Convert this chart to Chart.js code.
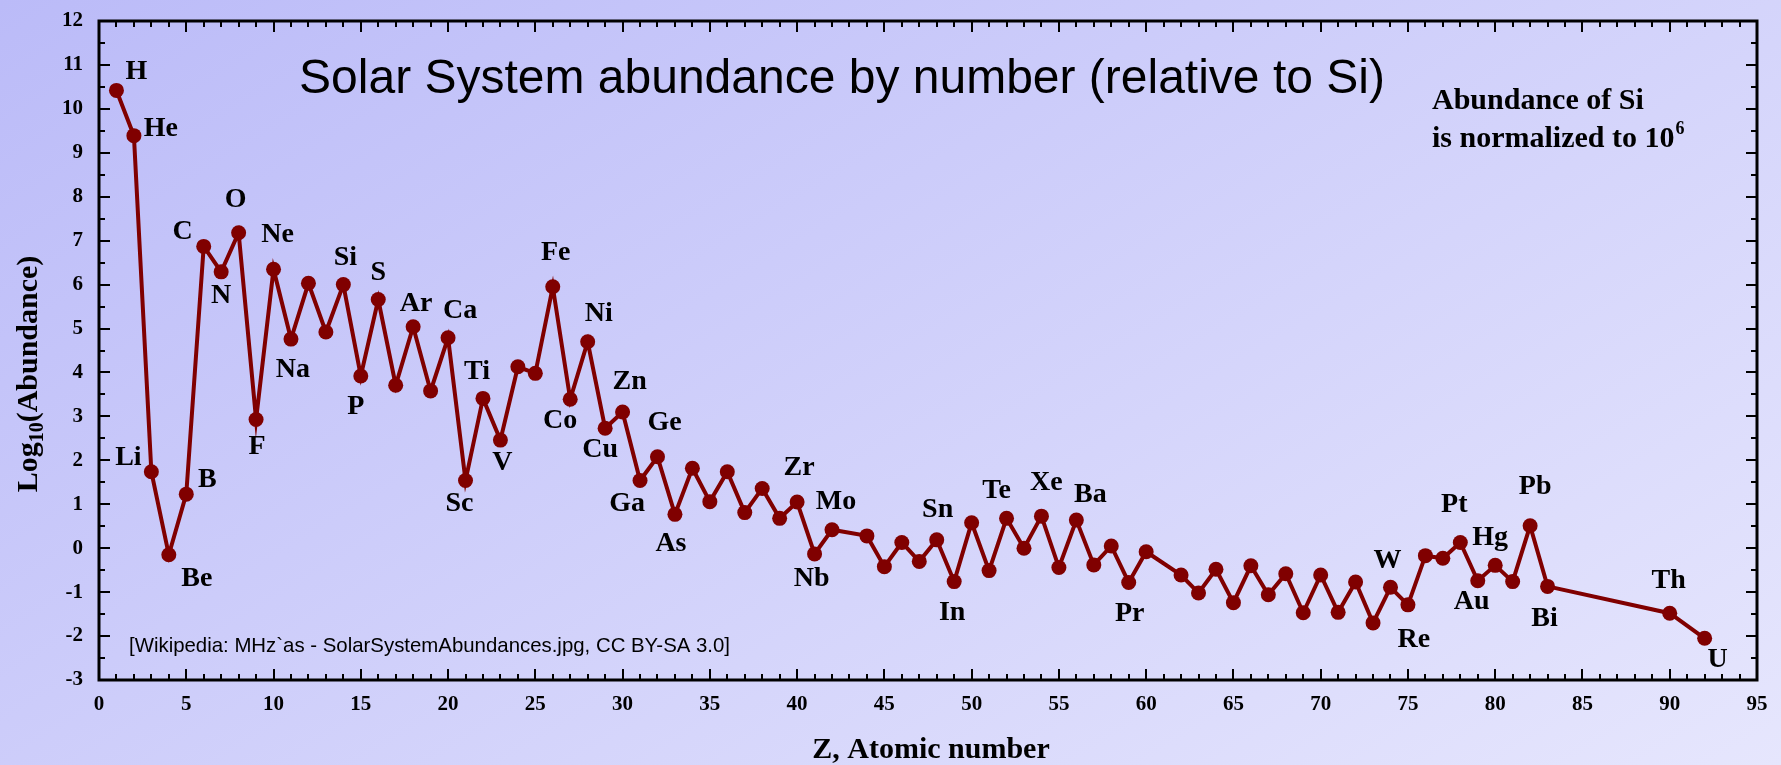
<!DOCTYPE html>
<html>
<head>
<meta charset="utf-8">
<title>Solar System abundance by number</title>
<script src="https://cdn.jsdelivr.net/npm/chart.js@4.4.1/dist/chart.umd.min.js"></script>
<style>
  html, body { margin: 0; padding: 0; }
  #wrap { width: 1781px; height: 765px; }
</style>
</head>
<body>
<div id="wrap"><canvas id="chart" width="1781" height="765"></canvas></div>
<script>
// Atomic numbers of the elements shown
const atomicNumbers = [
  1, 2, 3, 4, 5, 6, 7, 8, 9, 10,
  11, 12, 13, 14, 15, 16, 17, 18, 19, 20,
  21, 22, 23, 24, 25, 26, 27, 28, 29, 30,
  31, 32, 33, 34, 35, 36, 37, 38, 39, 40,
  41, 42, 44, 45, 46, 47, 48, 49, 50,
  51, 52, 53, 54, 55, 56, 57, 58, 59, 60,
  62, 63, 64, 65, 66, 67, 68, 69, 70,
  71, 72, 73, 74, 75, 76, 77, 78, 79, 80,
  81, 82, 83, 90, 92
];

// Element symbols, same order
const symbols = [
  'H', 'He', 'Li', 'Be', 'B', 'C', 'N', 'O', 'F', 'Ne',
  'Na', 'Mg', 'Al', 'Si', 'P', 'S', 'Cl', 'Ar', 'K', 'Ca',
  'Sc', 'Ti', 'V', 'Cr', 'Mn', 'Fe', 'Co', 'Ni', 'Cu', 'Zn',
  'Ga', 'Ge', 'As', 'Se', 'Br', 'Kr', 'Rb', 'Sr', 'Y', 'Zr',
  'Nb', 'Mo', 'Ru', 'Rh', 'Pd', 'Ag', 'Cd', 'In', 'Sn',
  'Sb', 'Te', 'I', 'Xe', 'Cs', 'Ba', 'La', 'Ce', 'Pr', 'Nd',
  'Sm', 'Eu', 'Gd', 'Tb', 'Dy', 'Ho', 'Er', 'Tm', 'Yb',
  'Lu', 'Hf', 'Ta', 'W', 'Re', 'Os', 'Ir', 'Pt', 'Au', 'Hg',
  'Tl', 'Pb', 'Bi', 'Th', 'U'
];

// log10 of abundance by number, Si = 10^6
const log10Abundance = [
  10.42, 9.39, 1.74, -0.15, 1.23, 6.87, 6.29, 7.18, 2.93, 6.35,
  4.76, 6.03, 4.92, 6.00, 3.92, 5.66, 3.71, 5.04, 3.58, 4.79,
  1.54, 3.41, 2.46, 4.13, 3.98, 5.95, 3.39, 4.70, 2.73, 3.10,
  1.54, 2.08, 0.77, 1.82, 1.06, 1.74, 0.81, 1.36, 0.68, 1.05,
  -0.13, 0.42, 0.28, -0.42, 0.13, -0.30, 0.19, -0.76, 0.58,
  -0.51, 0.68, 0.00, 0.73, -0.44, 0.64, -0.38, 0.05, -0.78, -0.08,
  -0.61, -1.02, -0.48, -1.24, -0.40, -1.06, -0.58, -1.47, -0.61,
  -1.46, -0.77, -1.70, -0.89, -1.29, -0.17, -0.23, 0.13, -0.74, -0.39,
  -0.76, 0.51, -0.87, -1.48, -2.05
];

// Axis ranges and tick steps
const xRange = [0, 95];
const yRange = [-3, 12];
const xTickStep = 5;
const yTickStep = 1;

// Which elements get a name tag, and where the tag sits relative to its marker (px)
const tagPlacement = {
  H: [20, -19], He: [27, -7], Li: [-23, -14], Be: [28, 24], B: [21, -14],
  C: [-21, -15], N: [0, 24], O: [-3, -33], F: [1, 27], Ne: [4, -34],
  Na: [2, 31], Si: [2, -27], P: [-5, 31], S: [0, -27], Ar: [3, -23],
  Ca: [12, -27], Sc: [-6, 23], Ti: [-6, -27], V: [2, 23], Fe: [3, -34],
  Co: [-10, 21], Ni: [11, -28], Cu: [-5, 22], Zn: [7, -30], Ga: [-13, 23],
  Ge: [7, -34], As: [-4, 29], Zr: [2, -34], Nb: [-3, 25], Mo: [4, -28],
  Sn: [-34, -13], In: [-2, 31], Te: [-10, -28], Xe: [5, -33], Ba: [14, -25],
  Pr: [1, 31], W: [-3, -27], Re: [6, 35], Pt: [-6, -38], Au: [-6, 21],
  Hg: [-5, -28], Pb: [5, -39], Bi: [-3, 32], Th: [-1, -32], U: [13, 22]
};

const INK = '#000000';
const MARK = '#800000';
const SERIF = '"Liberation Serif", "Times New Roman", Times, serif';
const SANS = '"Liberation Sans", Arial, Helvetica, sans-serif';

const points = atomicNumbers.map((z, i) => ({ x: z, y: log10Abundance[i] }));

// Soft diagonal backdrop
const backdrop = {
  id: 'backdrop',
  beforeDraw(chart) {
    const { ctx, width, height } = chart;
    const g = ctx.createLinearGradient(0, 0, 812, 1349);
    g.addColorStop(0, '#bbbbf8');
    g.addColorStop(1, '#e6e6fd');
    ctx.save();
    ctx.fillStyle = g;
    ctx.fillRect(0, 0, width, height);
    ctx.restore();
  }
};

// Box frame with inward major/minor ticks on all four sides
const frameTicks = {
  id: 'frameTicks',
  afterDatasetsDraw(chart) {
    const { ctx, chartArea: a, scales } = chart;
    const xs = scales.x, ys = scales.y;
    ctx.save();
    ctx.strokeStyle = INK;
    ctx.lineWidth = 2;
    ctx.beginPath();
    for (let z = xRange[0]; z <= xRange[1]; z += 1) {
      const px = Math.round(xs.getPixelForValue(z));
      const len = z % xTickStep === 0 ? 11 : 6;
      ctx.moveTo(px, a.bottom); ctx.lineTo(px, a.bottom - len);
      ctx.moveTo(px, a.top); ctx.lineTo(px, a.top + len);
    }
    for (let v = yRange[0]; v <= yRange[1]; v += 0.5) {
      const py = Math.round(ys.getPixelForValue(v));
      const len = Number.isInteger(v) ? 11 : 6;
      ctx.moveTo(a.left, py); ctx.lineTo(a.left + len, py);
      ctx.moveTo(a.right, py); ctx.lineTo(a.right - len, py);
    }
    ctx.stroke();
    ctx.lineWidth = 3;
    ctx.strokeRect(a.left, a.top, a.right - a.left, a.bottom - a.top);
    ctx.restore();
  }
};

// Element name tags next to their markers
const elementTags = {
  id: 'elementTags',
  afterDatasetsDraw(chart) {
    const { ctx } = chart;
    const meta = chart.getDatasetMeta(0);
    ctx.save();
    ctx.fillStyle = INK;
    ctx.font = 'bold 28px ' + SERIF;
    ctx.textAlign = 'center';
    ctx.textBaseline = 'middle';
    symbols.forEach((sym, i) => {
      const off = tagPlacement[sym];
      if (!off) return;
      const el = meta.data[i];
      ctx.fillText(sym, el.x + off[0], el.y + off[1]);
    });
    ctx.restore();
  }
};

// Title, notes and axis captions
const captions = {
  id: 'captions',
  afterDraw(chart) {
    const { ctx } = chart;
    ctx.save();
    ctx.fillStyle = INK;

    ctx.font = '48px ' + SANS;
    ctx.textAlign = 'center';
    ctx.textBaseline = 'alphabetic';
    ctx.fillText('Solar System abundance by number (relative to Si)', 842, 93);

    ctx.textAlign = 'left';
    ctx.font = '20.4px ' + SANS;
    ctx.fillText('[Wikipedia: MHz`as - SolarSystemAbundances.jpg, CC BY-SA 3.0]', 129, 652);

    ctx.font = 'bold 30px ' + SERIF;
    ctx.fillText('Abundance of Si', 1432, 109);
    const line2 = 'is normalized to 10';
    ctx.fillText(line2, 1432, 147);
    const w2 = ctx.measureText(line2).width;
    ctx.font = 'bold 18px ' + SERIF;
    ctx.fillText('6', 1432 + w2 + 1, 134);

    ctx.font = 'bold 30px ' + SERIF;
    ctx.textAlign = 'center';
    ctx.fillText('Z, Atomic number', 931, 758);

    // rotated y caption with subscript
    const big = 'bold 30px ' + SERIF, small = 'bold 20px ' + SERIF;
    ctx.font = big;
    const wLog = ctx.measureText('Log').width;
    const wRest = ctx.measureText('(Abundance)').width;
    ctx.font = small;
    const wSub = ctx.measureText('10').width;
    const total = wLog + wSub + wRest;
    ctx.translate(37, 374);
    ctx.rotate(-Math.PI / 2);
    ctx.textAlign = 'left';
    let u = -total / 2;
    ctx.font = big; ctx.fillText('Log', u, 0); u += wLog;
    ctx.font = small; ctx.fillText('10', u, 6); u += wSub;
    ctx.font = big; ctx.fillText('(Abundance)', u, 0);
    ctx.restore();
  }
};

// Pin each axis box to a fixed thickness and drop the label overhang padding
const fixedSize = (px, horizontal) => (scale) => {
  if (horizontal) {
    scale.height = px;
    scale.paddingLeft = 0; scale.paddingRight = 0;
  } else {
    scale.width = px;
    scale.paddingTop = 0; scale.paddingBottom = 0;
  }
};

new Chart(document.getElementById('chart'), {
  type: 'line',
  data: {
    datasets: [{
      data: points,
      borderColor: MARK,
      backgroundColor: MARK,
      borderWidth: 4,
      pointRadius: 7.5,
      pointBackgroundColor: MARK,
      pointBorderColor: MARK,
      pointBorderWidth: 0,
      tension: 0,
      fill: false
    }]
  },
  options: {
    responsive: false,
    animation: false,
    events: [],
    layout: { padding: 0 },
    plugins: { legend: { display: false }, tooltip: { enabled: false }, title: { display: false } },
    scales: {
      x: {
        type: 'linear', position: 'bottom',
        min: xRange[0], max: xRange[1],
        afterFit: fixedSize(85, true),
        grid: { display: false, drawTicks: false },
        border: { display: false },
        ticks: {
          stepSize: xTickStep, color: INK, padding: 12,
          maxRotation: 0, autoSkip: false,
          font: { family: SERIF, size: 21, weight: 'bold' }
        }
      },
      xTop: {
        type: 'linear', position: 'top',
        min: xRange[0], max: xRange[1],
        afterFit: fixedSize(21, true),
        grid: { display: false, drawTicks: false },
        border: { display: false },
        ticks: { display: false }
      },
      y: {
        type: 'linear', position: 'left',
        min: yRange[0], max: yRange[1],
        afterFit: fixedSize(99, false),
        grid: { display: false, drawTicks: false },
        border: { display: false },
        ticks: {
          stepSize: yTickStep, color: INK, padding: 16,
          font: { family: SERIF, size: 21, weight: 'bold' }
        }
      },
      yRight: {
        type: 'linear', position: 'right',
        min: yRange[0], max: yRange[1],
        afterFit: fixedSize(24, false),
        grid: { display: false, drawTicks: false },
        border: { display: false },
        ticks: { display: false }
      }
    }
  },
  plugins: [backdrop, frameTicks, elementTags, captions]
});
</script>
</body>
</html>
